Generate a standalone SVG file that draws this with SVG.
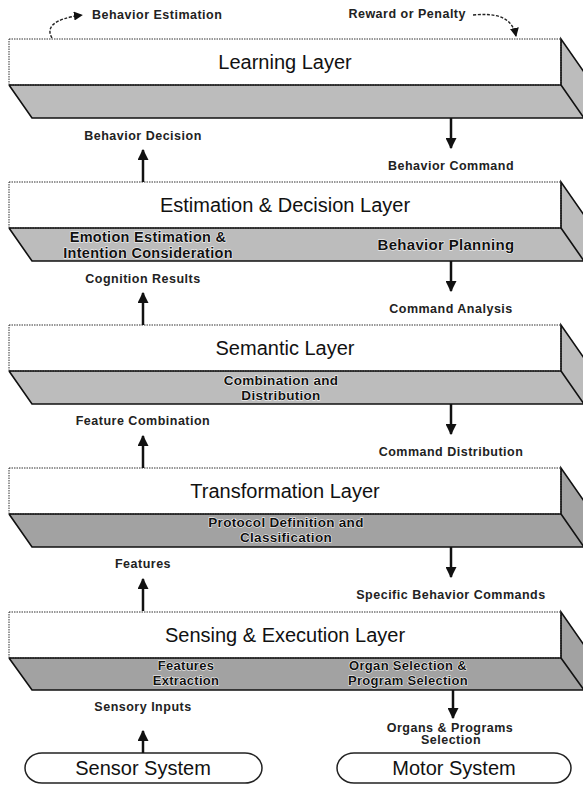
<svg xmlns="http://www.w3.org/2000/svg" width="583" height="785" viewBox="0 0 583 785">
<style>
.title{font-family:"Liberation Sans",Arial,sans-serif;font-size:20px;fill:#111;text-anchor:middle}
.lbl{font-family:"Liberation Sans",Arial,sans-serif;font-size:12.5px;font-weight:bold;fill:#222;letter-spacing:0.5px}
.sub{font-family:"Liberation Sans",Arial,sans-serif;font-weight:bold;fill:#111;stroke:#fff;stroke-width:1px;paint-order:stroke;text-anchor:middle;letter-spacing:0.3px}
.front{fill:#fff;stroke:#333;stroke-width:1;stroke-dasharray:1.5 1}
.edge{fill:none;stroke:#111;stroke-width:1.6}
.arr{stroke:#111;stroke-width:2.5;fill:none}
.curve{stroke:#222;stroke-width:1.4;fill:none;stroke-dasharray:3 1.6}
.pill{fill:#fff;stroke:#222;stroke-width:1.5}
.gA{fill:#bcbcbc}
.gB{fill:#a2a2a2}
</style>
<defs>
<marker id="ah" viewBox="0 0 10 10" refX="9" refY="5" markerWidth="11" markerHeight="11" markerUnits="userSpaceOnUse" orient="auto"><path d="M0,0 L10,5 L0,10 z" fill="#111"/></marker>
<marker id="ahs" viewBox="0 0 10 10" refX="9" refY="5" markerWidth="9" markerHeight="9" markerUnits="userSpaceOnUse" orient="auto"><path d="M0,0 L10,5 L0,10 z" fill="#111"/></marker>
</defs>

<g id="learning">
<polygon class="gA" points="9,85 561,85 584,118 32,118"/>
<polygon class="gA" points="561,39 584,72 584,118 561,85"/>
<rect class="front" x="9" y="39" width="552" height="46"/>
<path class="edge" d="M9,85 L561,85 L561,39 L584,72 M561,85 L584,118 L32,118 L9,85"/>
<text class="title" x="285" y="69">Learning Layer</text>
</g>

<g id="estimation">
<polygon class="gA" points="9,228 561,228 584,261 32,261"/>
<polygon class="gA" points="561,182 584,215 584,261 561,228"/>
<rect class="front" x="9" y="182" width="552" height="46"/>
<path class="edge" d="M9,228 L561,228 L561,182 L584,215 M561,228 L584,261 L32,261 L9,228"/>
<text class="title" x="285" y="212">Estimation &amp; Decision Layer</text>
<text class="sub" style="font-size:14.5px" x="148" y="242">Emotion Estimation &amp;</text>
<text class="sub" style="font-size:14.5px" x="148" y="258">Intention Consideration</text>
<text class="sub" style="font-size:15px" x="446" y="250">Behavior Planning</text>
</g>

<g id="semantic">
<polygon class="gA" points="9,371 561,371 584,404 32,404"/>
<polygon class="gA" points="561,325 584,358 584,404 561,371"/>
<rect class="front" x="9" y="325" width="552" height="46"/>
<path class="edge" d="M9,371 L561,371 L561,325 L584,358 M561,371 L584,404 L32,404 L9,371"/>
<text class="title" x="285" y="355">Semantic Layer</text>
<text class="sub" style="font-size:13.5px" x="281" y="385">Combination and</text>
<text class="sub" style="font-size:13.5px" x="281" y="400">Distribution</text>
</g>

<g id="transformation">
<polygon class="gB" points="9,514 561,514 584,547 32,547"/>
<polygon class="gB" points="561,468 584,501 584,547 561,514"/>
<rect class="front" x="9" y="468" width="552" height="46"/>
<path class="edge" d="M9,514 L561,514 L561,468 L584,501 M561,514 L584,547 L32,547 L9,514"/>
<text class="title" x="285" y="498">Transformation Layer</text>
<text class="sub" style="font-size:13.5px" x="286" y="527">Protocol Definition and</text>
<text class="sub" style="font-size:13.5px" x="286" y="542">Classification</text>
</g>

<g id="sensing">
<polygon class="gB" points="9,658 561,658 584,690 32,690"/>
<polygon class="gB" points="561,612 584,645 584,690 561,658"/>
<rect class="front" x="9" y="612" width="552" height="46"/>
<path class="edge" d="M9,658 L561,658 L561,612 L584,645 M561,658 L584,690 L32,690 L9,658"/>
<text class="title" x="285" y="642">Sensing &amp; Execution Layer</text>
<text class="sub" style="font-size:13px" x="186" y="670">Features</text>
<text class="sub" style="font-size:13px" x="186" y="685">Extraction</text>
<text class="sub" style="font-size:13px" x="408" y="670">Organ Selection &amp;</text>
<text class="sub" style="font-size:13px" x="408" y="685">Program Selection</text>
</g>

<g id="sensor">
<rect class="pill" x="25" y="753" width="237" height="30" rx="17" ry="15"/>
<text class="title" x="143" y="775">Sensor System</text>
</g>

<g id="motor">
<rect class="pill" x="337" y="753" width="234" height="30" rx="17" ry="15"/>
<text class="title" x="454" y="775">Motor System</text>
</g>

<g id="connectors">
<path class="curve" d="M52,38 C46,28 52,19 82,15" marker-end="url(#ahs)"/>
<path class="curve" d="M473,15 C495,13 512,16 516,36" marker-end="url(#ahs)"/>
<line class="arr" x1="143" y1="182" x2="143" y2="150" marker-end="url(#ah)"/>
<line class="arr" x1="143" y1="325" x2="143" y2="293" marker-end="url(#ah)"/>
<line class="arr" x1="143" y1="468" x2="143" y2="436" marker-end="url(#ah)"/>
<line class="arr" x1="143" y1="611" x2="143" y2="579" marker-end="url(#ah)"/>
<line class="arr" x1="143" y1="753" x2="143" y2="731" marker-end="url(#ah)"/>
<line class="arr" x1="451" y1="118" x2="451" y2="148" marker-end="url(#ah)"/>
<line class="arr" x1="451" y1="261" x2="451" y2="291" marker-end="url(#ah)"/>
<line class="arr" x1="451" y1="404" x2="451" y2="434" marker-end="url(#ah)"/>
<line class="arr" x1="451" y1="547" x2="451" y2="577" marker-end="url(#ah)"/>
<line class="arr" x1="453" y1="690" x2="453" y2="718" marker-end="url(#ah)"/>
</g>

<g id="labels">
<text class="lbl" x="92" y="18.5">Behavior Estimation</text>
<text class="lbl" x="466" y="17.5" text-anchor="end">Reward or Penalty</text>
<text class="lbl" x="143" y="139.5" text-anchor="middle">Behavior Decision</text>
<text class="lbl" x="143" y="282.5" text-anchor="middle">Cognition Results</text>
<text class="lbl" x="143" y="425" text-anchor="middle">Feature Combination</text>
<text class="lbl" x="143" y="568" text-anchor="middle">Features</text>
<text class="lbl" x="143" y="710.5" text-anchor="middle">Sensory Inputs</text>
<text class="lbl" x="451" y="169.5" text-anchor="middle">Behavior Command</text>
<text class="lbl" x="451" y="312.5" text-anchor="middle">Command Analysis</text>
<text class="lbl" x="451" y="455.5" text-anchor="middle">Command Distribution</text>
<text class="lbl" x="451" y="598.5" text-anchor="middle">Specific Behavior Commands</text>
<text class="lbl" x="450" y="731.5" text-anchor="middle">Organs &amp; Programs</text>
<text class="lbl" x="451" y="744" text-anchor="middle">Selection</text>
</g>
</svg>
